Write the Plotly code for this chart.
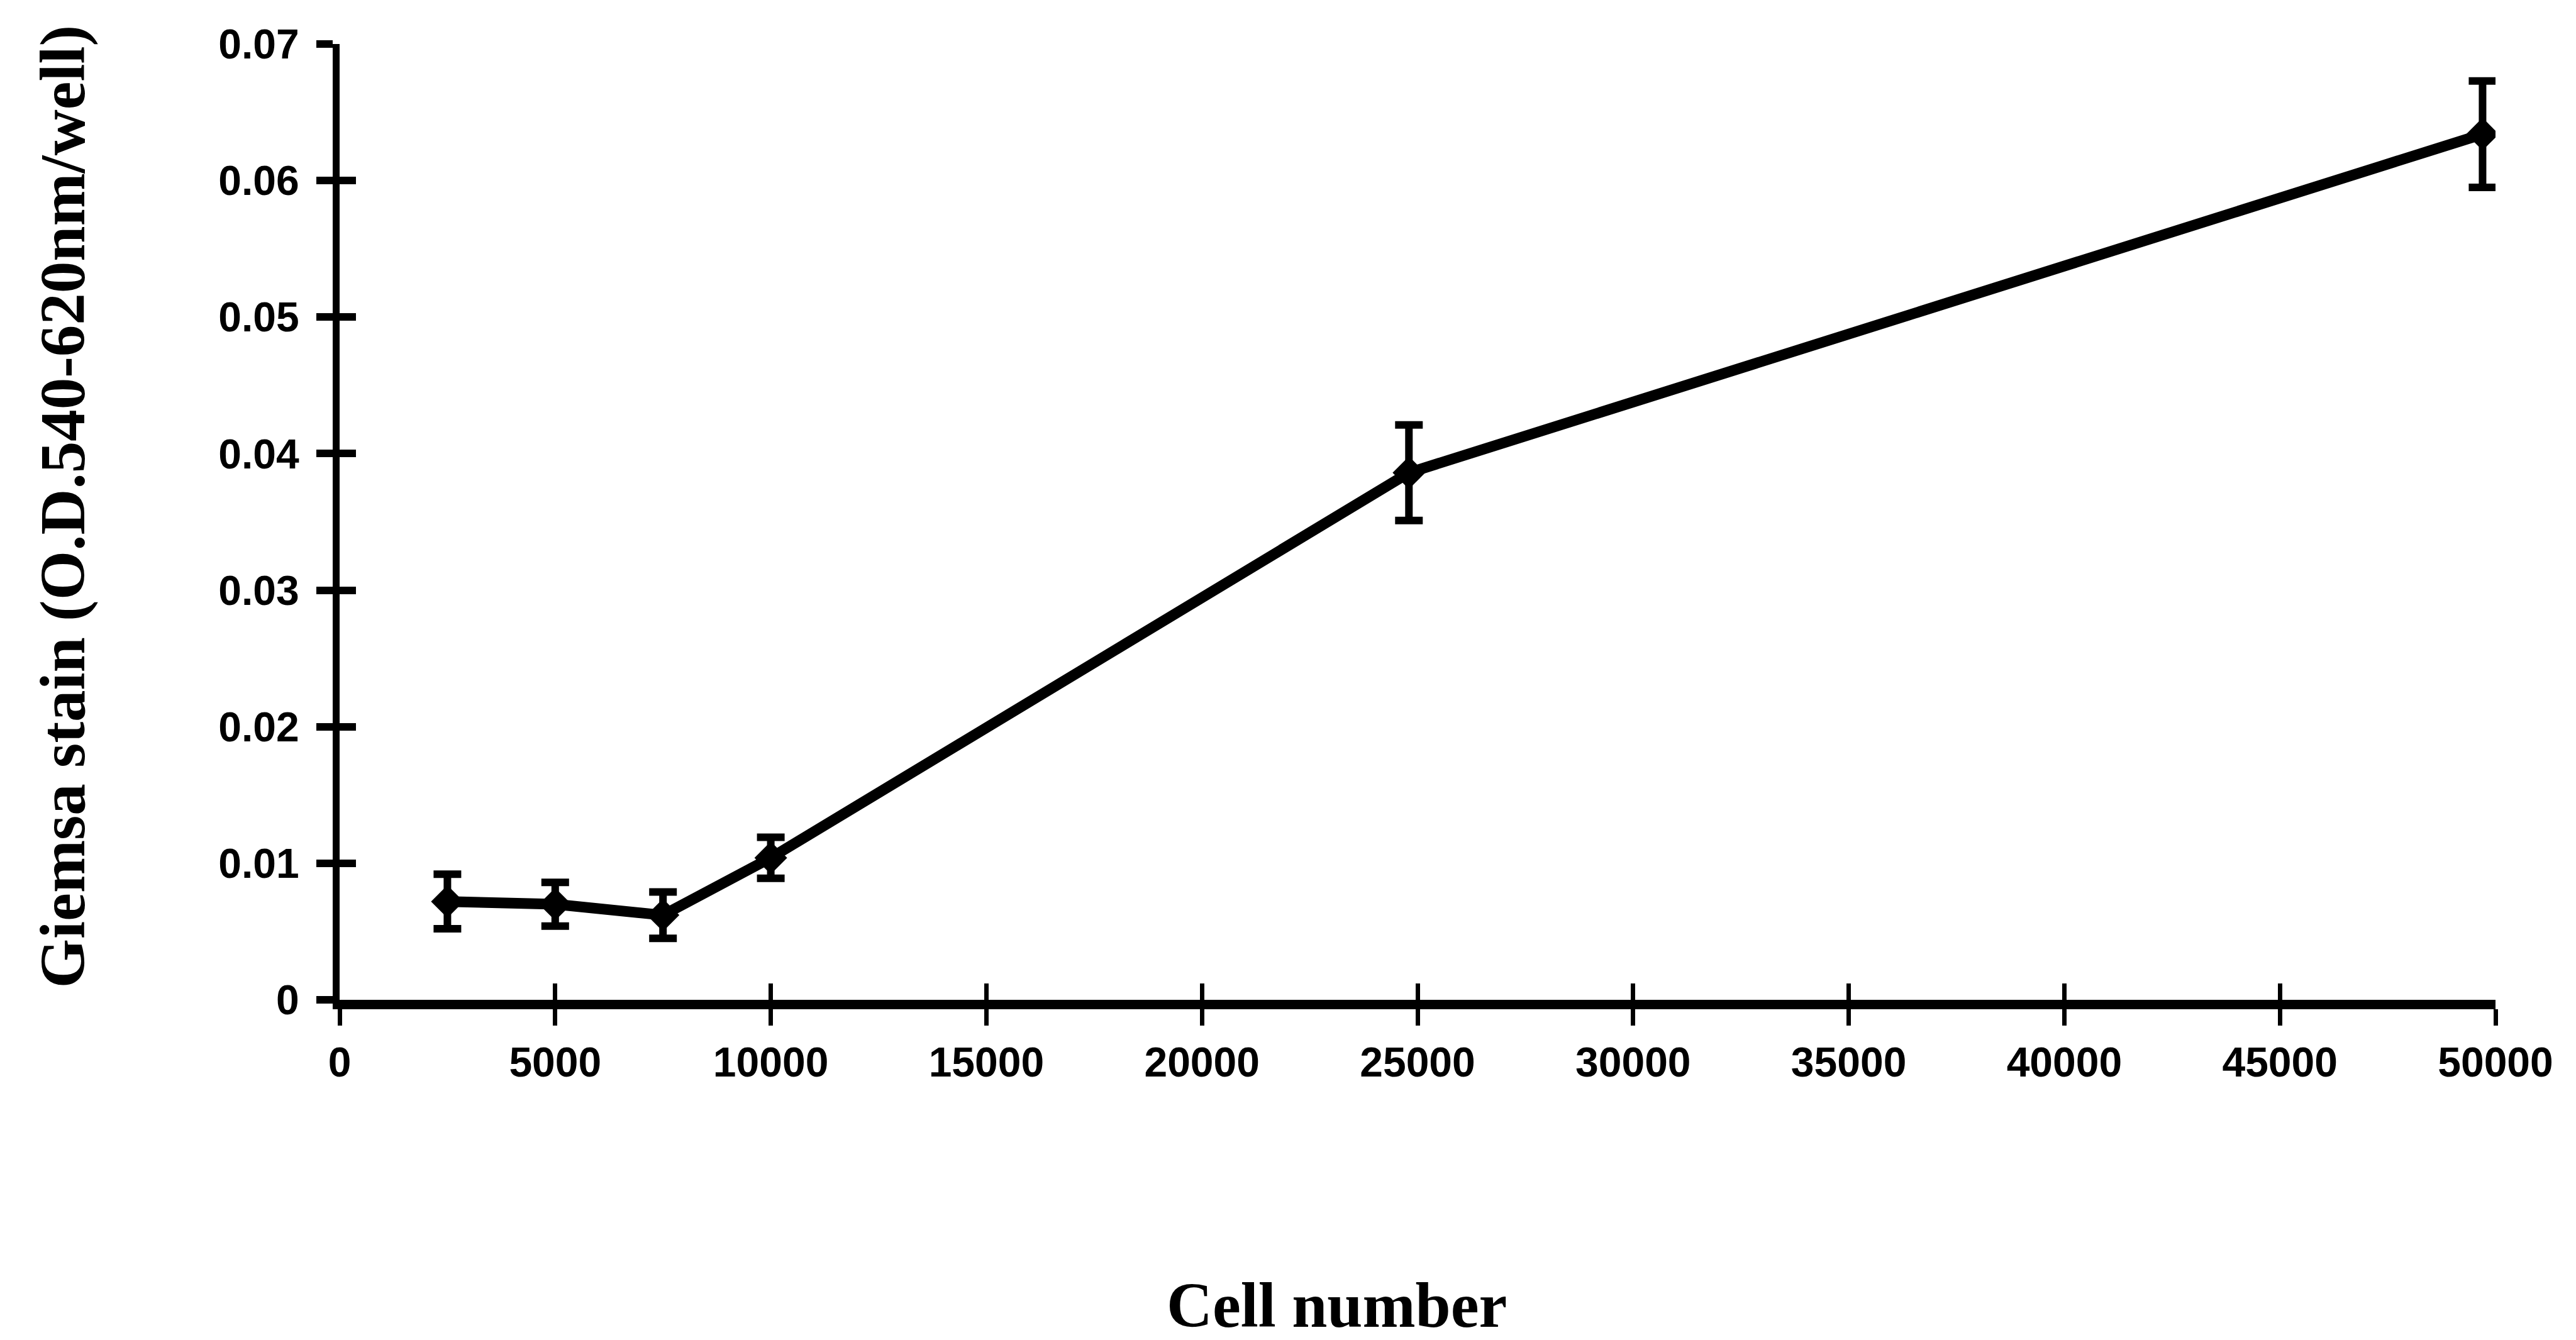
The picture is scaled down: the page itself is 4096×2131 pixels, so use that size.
import plotly.graph_objects as go

# Data
cell_number = [2500, 5000, 7500, 10000, 24800, 49700]
giemsa_od = [0.0072, 0.0070, 0.0062, 0.0104, 0.0386, 0.0634]
error_sd = [0.0020, 0.0016, 0.0017, 0.0015, 0.0035, 0.0039]

x_ticks = [0, 5000, 10000, 15000, 20000, 25000, 30000, 35000, 40000, 45000, 50000]
x_ticktext = [str(v) for v in x_ticks]
y_ticks = [0, 0.01, 0.02, 0.03, 0.04, 0.05, 0.06, 0.07]
y_ticktext = ["0", "0.01", "0.02", "0.03", "0.04", "0.05", "0.06", "0.07"]

x_title = "Cell number"
y_title = "Giemsa stain (O.D.540-620nm/well)"

tick_font = dict(family="Liberation Sans, Arial, sans-serif", size=66, color="black", weight="bold")
title_font = dict(family="Liberation Serif, Times New Roman, serif", size=101, color="black", weight="bold")

fig = go.Figure()

fig.add_trace(go.Scatter(
    x=cell_number, y=giemsa_od,
    mode="lines+markers",
    line=dict(color="black", width=17),
    marker=dict(symbol="diamond", size=40, color="black"),
    error_y=dict(type="data", array=error_sd, visible=True,
                 color="black", thickness=12, width=22),
    showlegend=False, hoverinfo="skip",
))

# invisible trace on overlay axes (used to draw the inner half of crossing ticks)
fig.add_trace(go.Scatter(
    x=[None], y=[None], xaxis="x2", yaxis="y2",
    showlegend=False, hoverinfo="skip",
))

fig.update_layout(
    width=4096, height=2131,
    margin=dict(l=540, r=128, t=70, b=541),
    paper_bgcolor="white", plot_bgcolor="white",
    showlegend=False,
    xaxis=dict(
        range=[0, 50000], tickmode="array", tickvals=x_ticks, ticktext=x_ticktext,
        ticks="outside", ticklen=26, tickwidth=7, tickcolor="black",
        showline=True, linewidth=15, linecolor="black",
        showgrid=False, zeroline=False, tickfont=tick_font,
        ticklabelstandoff=2,
    ),
    xaxis2=dict(
        range=[0, 50000], tickmode="array", tickvals=x_ticks,
        overlaying="x", anchor="y", side="bottom",
        ticks="inside", ticklen=26, tickwidth=7, tickcolor="black",
        showticklabels=False, showline=False, showgrid=False, zeroline=False,
    ),
    yaxis=dict(
        range=[0, 0.07], tickmode="array", tickvals=y_ticks, ticktext=y_ticktext,
        ticks="outside", ticklen=26, tickwidth=12, tickcolor="black",
        showline=True, linewidth=11, linecolor="black",
        showgrid=False, zeroline=False, tickfont=tick_font,
        ticklabelstandoff=14,
    ),
    yaxis2=dict(
        range=[0, 0.07], tickmode="array", tickvals=y_ticks,
        overlaying="y", anchor="x", side="left",
        ticks="inside", ticklen=26, tickwidth=12, tickcolor="black",
        showticklabels=False, showline=False, showgrid=False, zeroline=False,
    ),
    annotations=[
        dict(text=x_title, xref="paper", yref="paper", x=0.4624, y=-0.3197,
             xanchor="center", yanchor="middle", showarrow=False, font=title_font),
        dict(text=y_title, xref="paper", yref="paper", x=-0.1284, y=0.516,
             xanchor="center", yanchor="middle", textangle=-90, showarrow=False,
             font=title_font),
    ],
)

fig.write_html("out.html")
